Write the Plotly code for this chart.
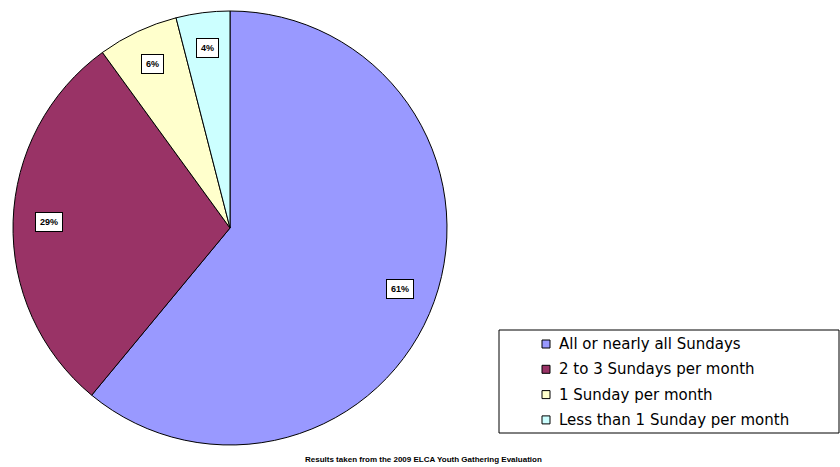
import math
import plotly.graph_objects as go

categories = ["All or nearly all Sundays", "2 to 3 Sundays per month",
              "1 Sunday per month", "Less than 1 Sunday per month"]
values = [61, 29, 6, 4]
pct_labels = ["61%", "29%", "6%", "4%"]
colors = ["#9999FF", "#993366", "#FFFFCC", "#CCFFFF"]
caption = "Results taken from the 2009 ELCA Youth Gathering Evaluation"

W, H = 840, 467
cx, cy, R = 230, 228, 217

fig = go.Figure(go.Pie(
    labels=categories, values=values, sort=False, direction="clockwise",
    rotation=0, textinfo="none", hoverinfo="label+percent",
    marker=dict(colors=colors, line=dict(color="black", width=1)),
    domain=dict(x=[(cx - R) / W, (cx + R) / W], y=[1 - (cy + R) / H, 1 - (cy - R) / H]),
    showlegend=False,
))

annotations = []
shapes = []
# percentage labels at mid-angle of each slice
total = sum(values)
cum = 0
for v, lab in zip(values, pct_labels):
    mid = (cum + v / 2) / total * 2 * math.pi
    cum += v
    r = 0.835 * R
    px = cx + r * math.sin(mid)
    py = cy - r * math.cos(mid)
    annotations.append(dict(
        x=px / W, y=1 - py / H, xref="paper", yref="paper", text="<b>" + lab + "</b>",
        xanchor="center", yanchor="middle",
        showarrow=False, font=dict(family="Liberation Sans, Arial", size=9, color="black"),
        bgcolor="white", bordercolor="black", borderwidth=1, borderpad=4,
    ))

# manual legend
lx0, ly0, lx1, ly1 = 499, 330, 839, 433
shapes.append(dict(type="rect", xref="paper", yref="paper",
                   x0=lx0 / W, x1=lx1 / W, y0=1 - ly1 / H, y1=1 - ly0 / H,
                   line=dict(color="black", width=1), fillcolor="white", layer="below"))
row0, step = 344, 25.3
for i, (cat, col) in enumerate(zip(categories, colors)):
    yc = row0 + i * step
    shapes.append(dict(type="rect", xref="paper", yref="paper",
                       x0=542 / W, x1=550 / W, y0=1 - (yc + 4) / H, y1=1 - (yc - 4) / H,
                       line=dict(color="black", width=1), fillcolor=col))
    annotations.append(dict(
        x=557 / W, y=1 - yc / H, xref="paper", yref="paper", text=cat,
        xanchor="left", yanchor="middle", showarrow=False,
        font=dict(family="DejaVu Sans", size=15, color="black"),
    ))

annotations.append(dict(
    x=423 / W, y=1 - 459 / H, xref="paper", yref="paper", text="<b>" + caption + "</b>",
    showarrow=False, xanchor="center", yanchor="middle",
    font=dict(family="Liberation Sans, Arial", size=8, color="black"),
))

fig.update_layout(
    width=W, height=H, margin=dict(l=0, r=0, t=0, b=0),
    paper_bgcolor="white", plot_bgcolor="white",
    annotations=annotations, shapes=shapes,
)
fig.write_html("out.html", config={"displayModeBar": False},
               post_script="document.body.style.margin='0';")
